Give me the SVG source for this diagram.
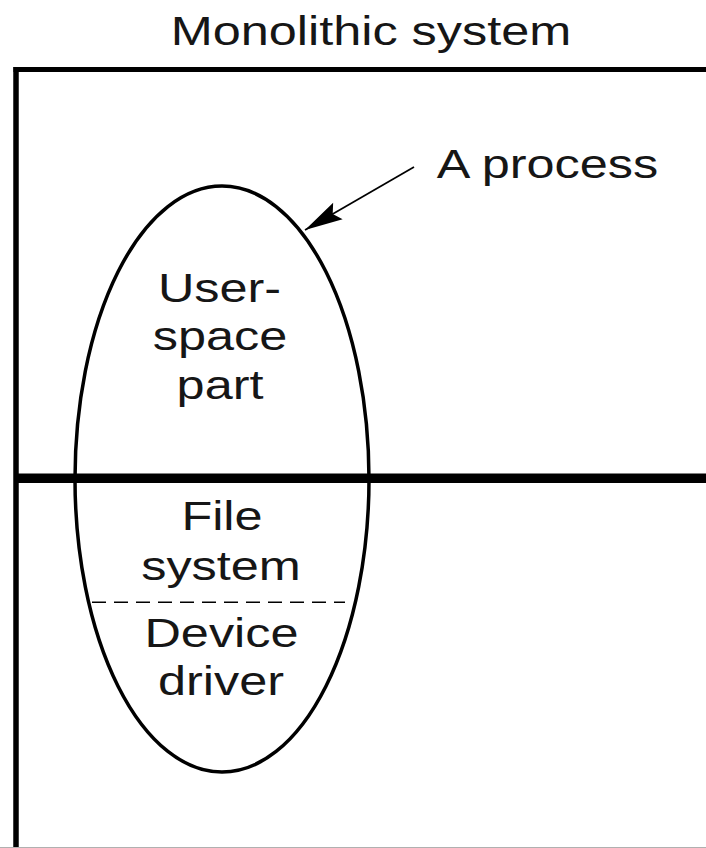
<svg xmlns="http://www.w3.org/2000/svg" width="706" height="848" viewBox="0 0 706 848">
  <style>
    .lbl { font-family: "Liberation Sans", Arial, Helvetica, sans-serif; font-size: 41px; fill: #161616; text-anchor: middle; }
    .frame { stroke: #000; fill: none; }
  </style>
  <defs>
    <marker id="arrowhead" viewBox="-42 -12 44 24" refX="0" refY="0" markerWidth="44" markerHeight="24" markerUnits="userSpaceOnUse" orient="auto">
      <path d="M0,0 L-38,-9.5 L-32,0 L-38,9.5 Z" fill="#000"/>
    </marker>
  </defs>
  <rect width="706" height="848" fill="#fff"/>

  <!-- title -->
  <g id="title">
    <text class="lbl" transform="scale(1.23 1)" x="301.6" y="45">Monolithic system</text>
  </g>

  <!-- system frame: left and top edges, kernel boundary -->
  <g id="frame">
    <line class="frame" x1="16" y1="67" x2="16" y2="848" stroke-width="5.5"/>
    <line class="frame" x1="13.5" y1="69.5" x2="706" y2="69.5" stroke-width="5"/>
    <line x1="0" y1="847.5" x2="706" y2="847.5" stroke="#b0b0b0" stroke-width="1"/>
    <line class="frame" x1="14" y1="478.3" x2="706" y2="478.3" stroke-width="9.5"/>
  </g>

  <!-- the process spanning user and kernel space -->
  <g id="process">
    <ellipse cx="222" cy="479" rx="147" ry="293" fill="none" stroke="#000" stroke-width="3.5"/>
    <line x1="92" y1="602.3" x2="345" y2="602.3" stroke="#000" stroke-width="1.6" stroke-dasharray="14 8"/>
  </g>

  <g id="user-space-part">
    <text class="lbl" transform="scale(1.23 1)" x="178.5" y="302">User-</text>
    <text class="lbl" transform="scale(1.23 1)" x="178.9" y="350">space</text>
    <text class="lbl" transform="scale(1.23 1)" x="178.9" y="399">part</text>
  </g>

  <g id="file-system">
    <text class="lbl" transform="scale(1.23 1)" x="180.5" y="530">File</text>
    <text class="lbl" transform="scale(1.23 1)" x="179.7" y="580">system</text>
  </g>

  <g id="device-driver">
    <text class="lbl" transform="scale(1.23 1)" x="180.1" y="647">Device</text>
    <text class="lbl" transform="scale(1.23 1)" x="179.7" y="695">driver</text>
  </g>

  <g id="process-label">
    <text class="lbl" transform="scale(1.23 1)" x="445.1" y="178">A process</text>
  </g>

  <!-- connectors -->
  <g id="connectors">
    <line x1="414" y1="167" x2="305" y2="230" stroke="#000" stroke-width="1.7" marker-end="url(#arrowhead)"/>
  </g>
</svg>
